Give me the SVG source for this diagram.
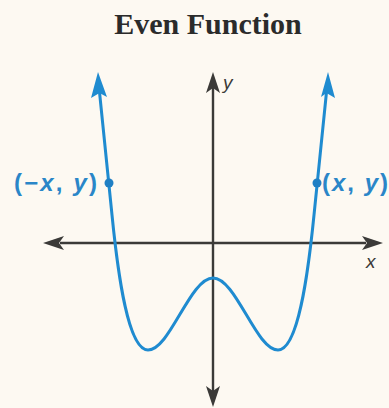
<svg xmlns="http://www.w3.org/2000/svg" width="389" height="408" viewBox="0 0 389 408">
<defs>
<style>
.axis{stroke:#3b3a38;stroke-width:2.4;fill:none}
.ahead{fill:#3b3a38}
.curve{stroke:#1f8bd0;stroke-width:3;fill:none;stroke-linejoin:round}
.chead{fill:#1f8bd0}
.lbl{font-family:"Liberation Sans",Arial,sans-serif;font-size:24px;fill:#2a86c8;font-weight:bold}
.ax{font-family:"Liberation Sans",Arial,sans-serif;font-size:19px;font-style:italic;fill:#3b3a38}
.title{font-family:"Liberation Serif","Times New Roman",serif;font-size:30px;font-weight:bold;fill:#2b2b2b}
</style>
</defs>
<rect width="389" height="408" fill="#fdf9f2"/>
<g id="title"><text class="title" x="208" y="34" text-anchor="middle">Even Function</text></g>
<g id="connectors">
<line class="axis" x1="60" y1="243" x2="366" y2="243"/>
<polygon class="ahead" points="43,243 64,236 59,243 64,250"/>
<polygon class="ahead" points="383,243 362,236 367,243 362,250"/>
<line class="axis" x1="213" y1="88" x2="213" y2="392"/>
<polygon class="ahead" points="213,72 206,93 213,88 220,93"/>
<polygon class="ahead" points="213,407 206,386 213,391 220,386"/>
</g>
<g id="curve">
<path class="curve" d="M 99.5,92 L 112,215 C 118,275 128,350 148,350 C 170,350 190,278 213,278 C 236,278 256,350 278,350 C 298,350 308,275 314,215 L 326.5,92"/>
<polygon class="chead" points="98,72 91,98 99.5,93 107,97"/>
<polygon class="chead" points="328,72 321,97 326.5,93 335,98"/>
</g>
<g id="point-left">
<circle cx="109" cy="183" r="4.5" fill="#1f7fc4"/>
<text class="lbl" x="14" y="191" textLength="83" lengthAdjust="spacing">(−<tspan font-style="italic">x</tspan>, <tspan font-style="italic">y</tspan>)</text>
</g>
<g id="point-right">
<circle cx="317" cy="183" r="4.5" fill="#1f7fc4"/>
<text class="lbl" x="322" y="191" textLength="66" lengthAdjust="spacing">(<tspan font-style="italic">x</tspan>, <tspan font-style="italic">y</tspan>)</text>
</g>
<g id="axis-labels">
<text class="ax" x="223" y="89">y</text>
<text class="ax" x="366" y="268">x</text>
</g>
</svg>
